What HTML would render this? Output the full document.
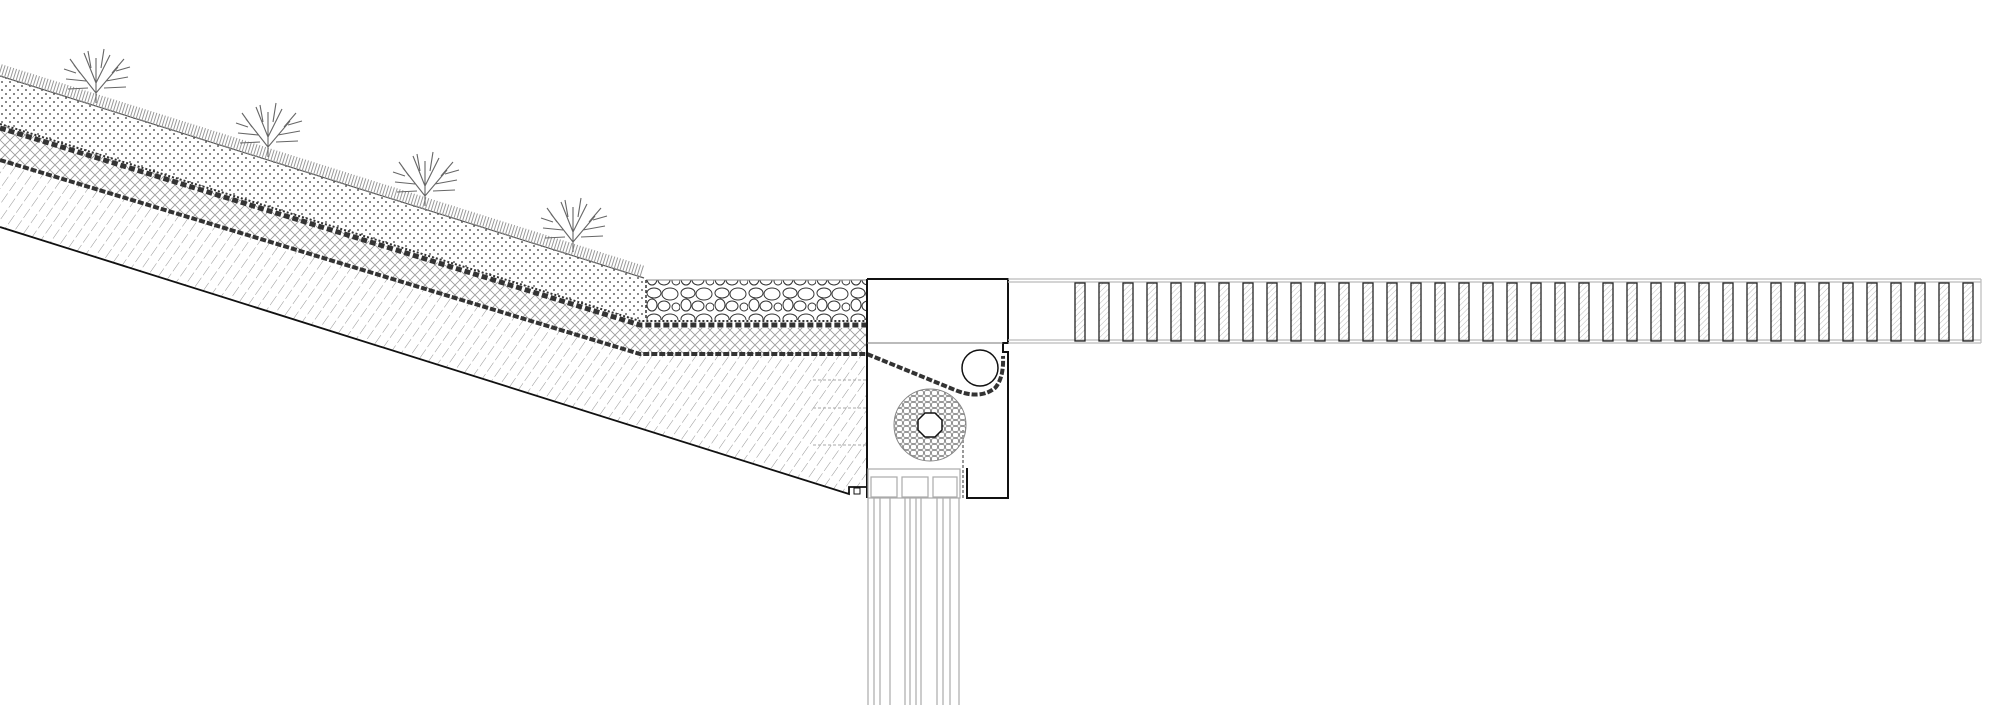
<!DOCTYPE html>
<html><head><meta charset="utf-8"><style>html,body{margin:0;padding:0;background:#fff}svg{display:block}</style></head>
<body>
<svg width="2000" height="705" viewBox="0 0 2000 705" xmlns="http://www.w3.org/2000/svg">
<defs>
<pattern id="dots" width="8" height="8" patternUnits="userSpaceOnUse"><circle cx="2" cy="2" r="0.9" fill="#333"/><circle cx="6" cy="6" r="0.9" fill="#333"/></pattern>
<pattern id="xh" width="10" height="10" patternUnits="userSpaceOnUse"><path d="M0 0L10 10M10 0L0 10" stroke="#999" stroke-width="0.8"/></pattern>
<pattern id="diag" width="9" height="14" patternUnits="userSpaceOnUse" patternTransform="rotate(35)"><line x1="0" y1="0" x2="0" y2="14" stroke="#888" stroke-width="0.9" stroke-dasharray="11 3"/></pattern>
<pattern id="sl" width="4" height="4" patternUnits="userSpaceOnUse" patternTransform="rotate(45)"><line x1="0" y1="0" x2="0" y2="4" stroke="#aaa" stroke-width="0.8"/></pattern>
<pattern id="stones" width="34" height="26" patternUnits="userSpaceOnUse">
<g fill="none" stroke="#333" stroke-width="1"><ellipse cx="8" cy="7" rx="7" ry="5"/><ellipse cx="24" cy="8" rx="8" ry="6"/><ellipse cx="6" cy="19" rx="5" ry="6"/><ellipse cx="18" cy="20" rx="6" ry="5"/><ellipse cx="30" cy="21" rx="4" ry="4"/></g></pattern>
<pattern id="roll" width="7" height="6" patternUnits="userSpaceOnUse"><rect x="0.5" y="0.5" width="6" height="5" rx="2" fill="none" stroke="#777" stroke-width="0.8"/></pattern>
<g id="pl" fill="none" stroke="#666" stroke-width="1.1"><path d="M0 0 L0 -45 M0 -10 L-22 -38 M0 -10 L22 -36 M0 -20 L-12 -50 M0 -20 L14 -48 M-10 -22 L-30 -24 M10 -22 L32 -26 M-16 -30 L-26 -44 M16 -30 L28 -44 M-5 -35 L-8 -52 M5 -35 L8 -54 M-20 -30 L-32 -34 M20 -32 L34 -36 M-8 -15 L-28 -14 M8 -15 L30 -16"/></g>
</defs>

<polygon points="0,227 849,494 849,487 867,487 867,354 640,354 0,160" fill="url(#diag)"/>
<polygon points="0,160 640,354 867,354 867,328 645,328 0,124" fill="url(#xh)"/>
<polygon points="0,76 644,278 644,322 0,124" fill="url(#dots)"/>
<rect x="646" y="280" width="220" height="40" fill="url(#stones)"/>
<line x1="646" y1="280" x2="866" y2="280" stroke="#888"/>
<line x1="646" y1="280" x2="646" y2="320" stroke="#333" stroke-width="1.5" stroke-dasharray="3 2"/>
<line x1="0" y1="76" x2="644" y2="278" stroke="#555" stroke-width="1.2"/>
<path d="M0 70 L644 272" stroke="#999" stroke-width="12" stroke-dasharray="1 2" fill="none"/>
<path d="M0 124 L640 321 L867 321" stroke="#333" stroke-width="2" stroke-dasharray="2 2" fill="none"/>
<path d="M0 128 L640 325 L867 325" stroke="#333" stroke-width="5" stroke-dasharray="6 3" fill="none"/>
<path d="M0 160 L640 354 L867 354 L955 390 Q980 400 995 388 Q1004 378 1003 356" stroke="#333" stroke-width="4" stroke-dasharray="6 2" fill="none"/>
<path d="M0 227 L849 494 L849 487 L867 487" stroke="#111" stroke-width="1.8" fill="none"/>
<rect x="854" y="488" width="6" height="6" fill="none" stroke="#111"/>
<g stroke="#aaa" stroke-dasharray="3 2"><line x1="813" y1="380" x2="867" y2="380"/><line x1="813" y1="408" x2="867" y2="408"/><line x1="813" y1="445" x2="867" y2="445"/></g>

<path d="M867 279 L1008 279 L1008 343 L1003 343 L1003 352 L1008 352 L1008 498 L967 498 L967 468" fill="none" stroke="#111" stroke-width="2"/>
<line x1="867" y1="279" x2="867" y2="498" stroke="#111" stroke-width="2"/>
<line x1="867" y1="343" x2="1003" y2="343" stroke="#777" stroke-width="1"/>
<circle cx="980" cy="368" r="18" fill="#fff" stroke="#111" stroke-width="1.5"/>
<circle cx="930" cy="425" r="36" fill="url(#roll)" stroke="#888"/>
<polygon points="925,413 935,413 942,420 942,430 935,437 925,437 918,430 918,420" fill="#fff" stroke="#111" stroke-width="1.5"/>
<line x1="963" y1="430" x2="963" y2="498" stroke="#999" stroke-width="2" stroke-dasharray="3 2"/>

<g stroke="#aaa" stroke-width="1.2" fill="none">
<rect x="868" y="469" width="92" height="29"/>
<rect x="871" y="477" width="26" height="20"/><rect x="902" y="477" width="26" height="20"/><rect x="933" y="477" width="24" height="20"/>
<line x1="868" y1="498" x2="868" y2="705"/><line x1="874" y1="498" x2="874" y2="705"/><line x1="880" y1="498" x2="880" y2="705"/><line x1="890" y1="498" x2="890" y2="705"/>
<line x1="905" y1="498" x2="905" y2="705"/><line x1="910" y1="498" x2="910" y2="705"/><line x1="916" y1="498" x2="916" y2="705"/><line x1="921" y1="498" x2="921" y2="705"/>
<line x1="937" y1="498" x2="937" y2="705"/><line x1="943" y1="498" x2="943" y2="705"/><line x1="950" y1="498" x2="950" y2="705"/><line x1="959" y1="498" x2="959" y2="705"/>
</g>

<g stroke="#bbb" stroke-width="1.2"><line x1="1008" y1="279" x2="1981" y2="279"/><line x1="1008" y1="282" x2="1981" y2="282"/><line x1="1008" y1="340" x2="1981" y2="340"/><line x1="1008" y1="343" x2="1981" y2="343"/><line x1="1981" y1="279" x2="1981" y2="343"/></g>
<g fill="url(#sl)" stroke="#222" stroke-width="1.3">
<rect x="1075" y="283" width="10" height="58"/><rect x="1099" y="283" width="10" height="58"/><rect x="1123" y="283" width="10" height="58"/><rect x="1147" y="283" width="10" height="58"/><rect x="1171" y="283" width="10" height="58"/><rect x="1195" y="283" width="10" height="58"/><rect x="1219" y="283" width="10" height="58"/><rect x="1243" y="283" width="10" height="58"/><rect x="1267" y="283" width="10" height="58"/><rect x="1291" y="283" width="10" height="58"/><rect x="1315" y="283" width="10" height="58"/><rect x="1339" y="283" width="10" height="58"/><rect x="1363" y="283" width="10" height="58"/><rect x="1387" y="283" width="10" height="58"/><rect x="1411" y="283" width="10" height="58"/><rect x="1435" y="283" width="10" height="58"/><rect x="1459" y="283" width="10" height="58"/><rect x="1483" y="283" width="10" height="58"/><rect x="1507" y="283" width="10" height="58"/><rect x="1531" y="283" width="10" height="58"/><rect x="1555" y="283" width="10" height="58"/><rect x="1579" y="283" width="10" height="58"/><rect x="1603" y="283" width="10" height="58"/><rect x="1627" y="283" width="10" height="58"/><rect x="1651" y="283" width="10" height="58"/><rect x="1675" y="283" width="10" height="58"/><rect x="1699" y="283" width="10" height="58"/><rect x="1723" y="283" width="10" height="58"/><rect x="1747" y="283" width="10" height="58"/><rect x="1771" y="283" width="10" height="58"/><rect x="1795" y="283" width="10" height="58"/><rect x="1819" y="283" width="10" height="58"/><rect x="1843" y="283" width="10" height="58"/><rect x="1867" y="283" width="10" height="58"/><rect x="1891" y="283" width="10" height="58"/><rect x="1915" y="283" width="10" height="58"/><rect x="1939" y="283" width="10" height="58"/><rect x="1963" y="283" width="10" height="58"/>
</g>

<use href="#pl" x="96" y="103"/><use href="#pl" x="268" y="157"/><use href="#pl" x="425" y="206"/><use href="#pl" x="573" y="252"/>
</svg>
</body></html>
